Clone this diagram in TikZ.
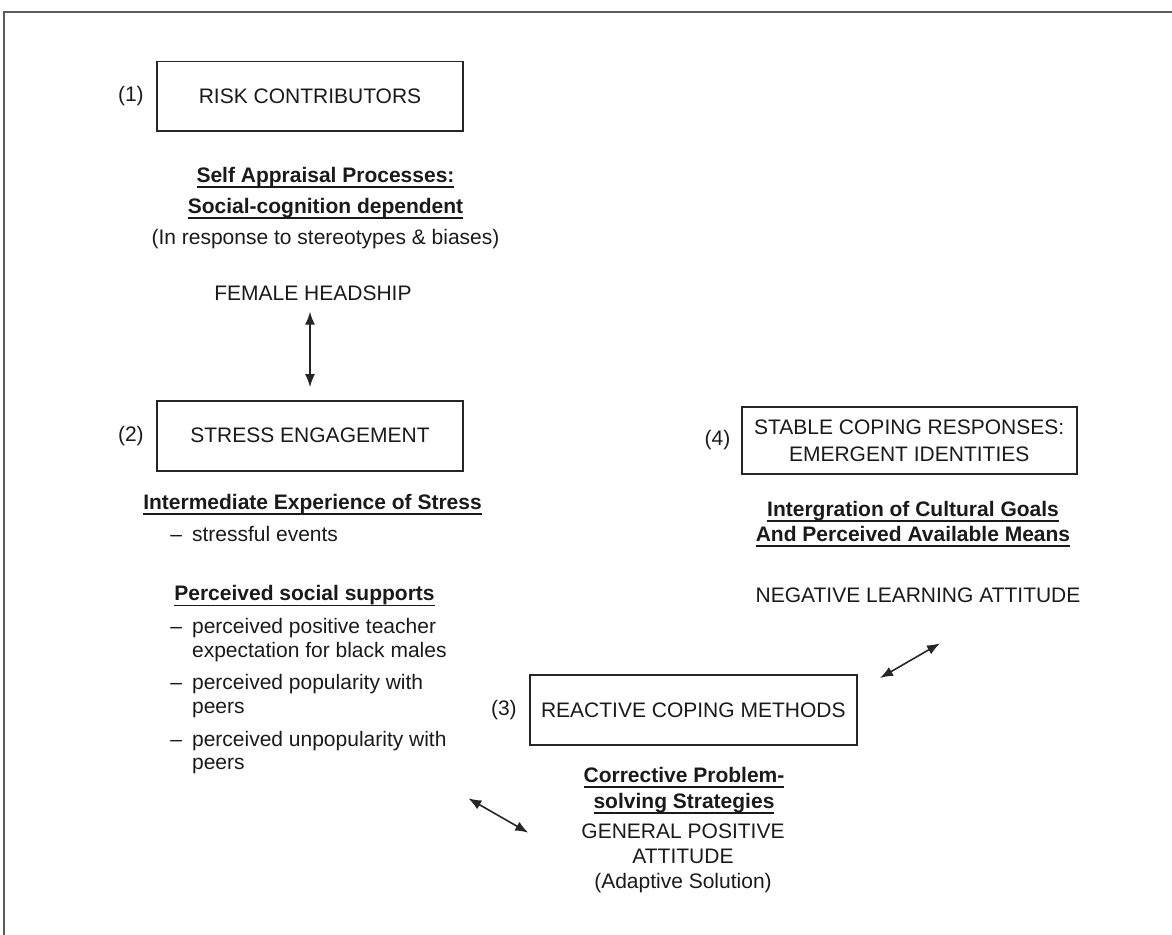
\documentclass[tikz,border=0pt]{standalone}
\usepackage{fontspec}
\setmainfont{Liberation Sans}
\usepackage{xcolor}
\usetikzlibrary{arrows.meta,positioning}
\definecolor{StageInk}{HTML}{1A1A1A}
\definecolor{StageLine}{HTML}{262626}
\definecolor{StageFrame}{HTML}{5C5C5C}
\newsavebox\ulheadbox
\newcommand\ulhead[1]{\sbox\ulheadbox{#1}\rlap{\rule[-2.7pt]{\wd\ulheadbox}{0.9pt}}\usebox\ulheadbox}
\newcommand\listdash{\llap{--\hspace{5pt}}}
\tikzset{
  >=Latex,
  stagebox/.style={draw=StageLine,line width=0.9pt,inner sep=3pt,align=center,text=StageInk,
    font=\fontsize{10.5}{13.3}\selectfont},
  stagenum/.style={inner sep=0pt,text=StageInk,font=\fontsize{10.5}{12}\selectfont},
  headtext/.style={inner sep=0pt,align=center,text=StageInk,font=\fontsize{10.5}{12.2}\selectfont\bfseries},
  plaintext/.style={inner sep=0pt,align=center,text=StageInk,font=\fontsize{10.5}{12.5}\selectfont},
  listtext/.style={inner sep=0pt,align=left,text=StageInk,font=\fontsize{10.5}{11.8}\selectfont},
  link/.style={{Latex[length=6.5pt,width=5pt]}-{Latex[length=6.5pt,width=5pt]},line width=0.8pt,draw=StageLine},
  pageframe/.style={draw=StageFrame,line width=1pt}
}

\begin{document}
\begin{tikzpicture}[x=0.5pt,y=-0.5pt]
  \useasboundingbox (0,0) rectangle (1172,935);
  \draw[pageframe] (4,935) -- (4,12) -- (1172,12);

  \node[stagebox,minimum width=153pt,minimum height=34.7pt] (risk) at (310,96.3) {RISK CONTRIBUTORS};
  \node[stagenum,left=6pt of risk] (riskno) {(1)};
  \node[headtext,font=\fontsize{10.5}{12.5}\selectfont\bfseries] (appraisal) at (325.5,208)
    {\ulhead{Self Appraisal Processes:}\\[3pt]\ulhead{Social-cognition dependent}\\[3pt]{\mdseries (In response to stereotypes \& biases)}};
  \node[plaintext] (headship) at (313,293.2) {FEMALE HEADSHIP};

  \node[stagebox,minimum width=153pt,minimum height=35pt] (stress) at (310,435.7) {STRESS ENGAGEMENT};
  \node[stagenum,left=6pt of stress] (stressno) {(2)};
  \node[headtext] (intermediate) at (312.5,504.3) {\ulhead{Intermediate Experience of Stress}};
  \node[listtext,anchor=west] (events) at (191.7,533.5) {\listdash stressful events};
  \node[headtext] (supports) at (304.5,596) {\ulhead{Perceived social supports}};
  \node[listtext,anchor=north west] (supportlist) at (191.7,618)
    {\listdash perceived positive teacher\\expectation for black males\\[4.5pt]\listdash perceived popularity with\\peers\\[4.5pt]\listdash perceived unpopularity with\\peers};

  \node[stagebox,minimum width=163.3pt,minimum height=35pt] (reactive) at (693.3,710) {REACTIVE COPING METHODS};
  \node[stagenum,left=6pt of reactive] (reactiveno) {(3)};
  \node[headtext,font=\fontsize{10.5}{12.8}\selectfont\bfseries] (corrective) at (684,790.7)
    {\ulhead{Corrective Problem-}\\\ulhead{solving Strategies}};
  \node[plaintext] (general) at (683,858) {GENERAL POSITIVE\\ATTITUDE\\(Adaptive Solution)};

  \node[stagebox,minimum width=167.5pt,minimum height=33.8pt] (stable) at (909.2,440.5) {STABLE COPING RESPONSES:\\EMERGENT IDENTITIES};
  \node[stagenum,left=5pt of stable] (stableno) {(4)};
  \node[headtext] (integration) at (913,524) {\ulhead{Intergration of Cultural Goals}\\\ulhead{And Perceived Available Means}};
  \node[plaintext] (negative) at (918,595.2) {NEGATIVE LEARNING ATTITUDE};

  \coordinate (negtip) at (940,643.3);
  \coordinate (reacttip) at (880,678);
  \coordinate (listtip) at (468.3,798.3);
  \coordinate (generaltip) at (528.3,832.7);

  \draw[link,shorten <=5.3pt,shorten >=6.3pt] (headship.south -| stress.north) -- (stress.north);
  \draw[link] (reacttip) -- (negtip);
  \draw[link] (listtip) -- (generaltip);
\end{tikzpicture}
\end{document}
